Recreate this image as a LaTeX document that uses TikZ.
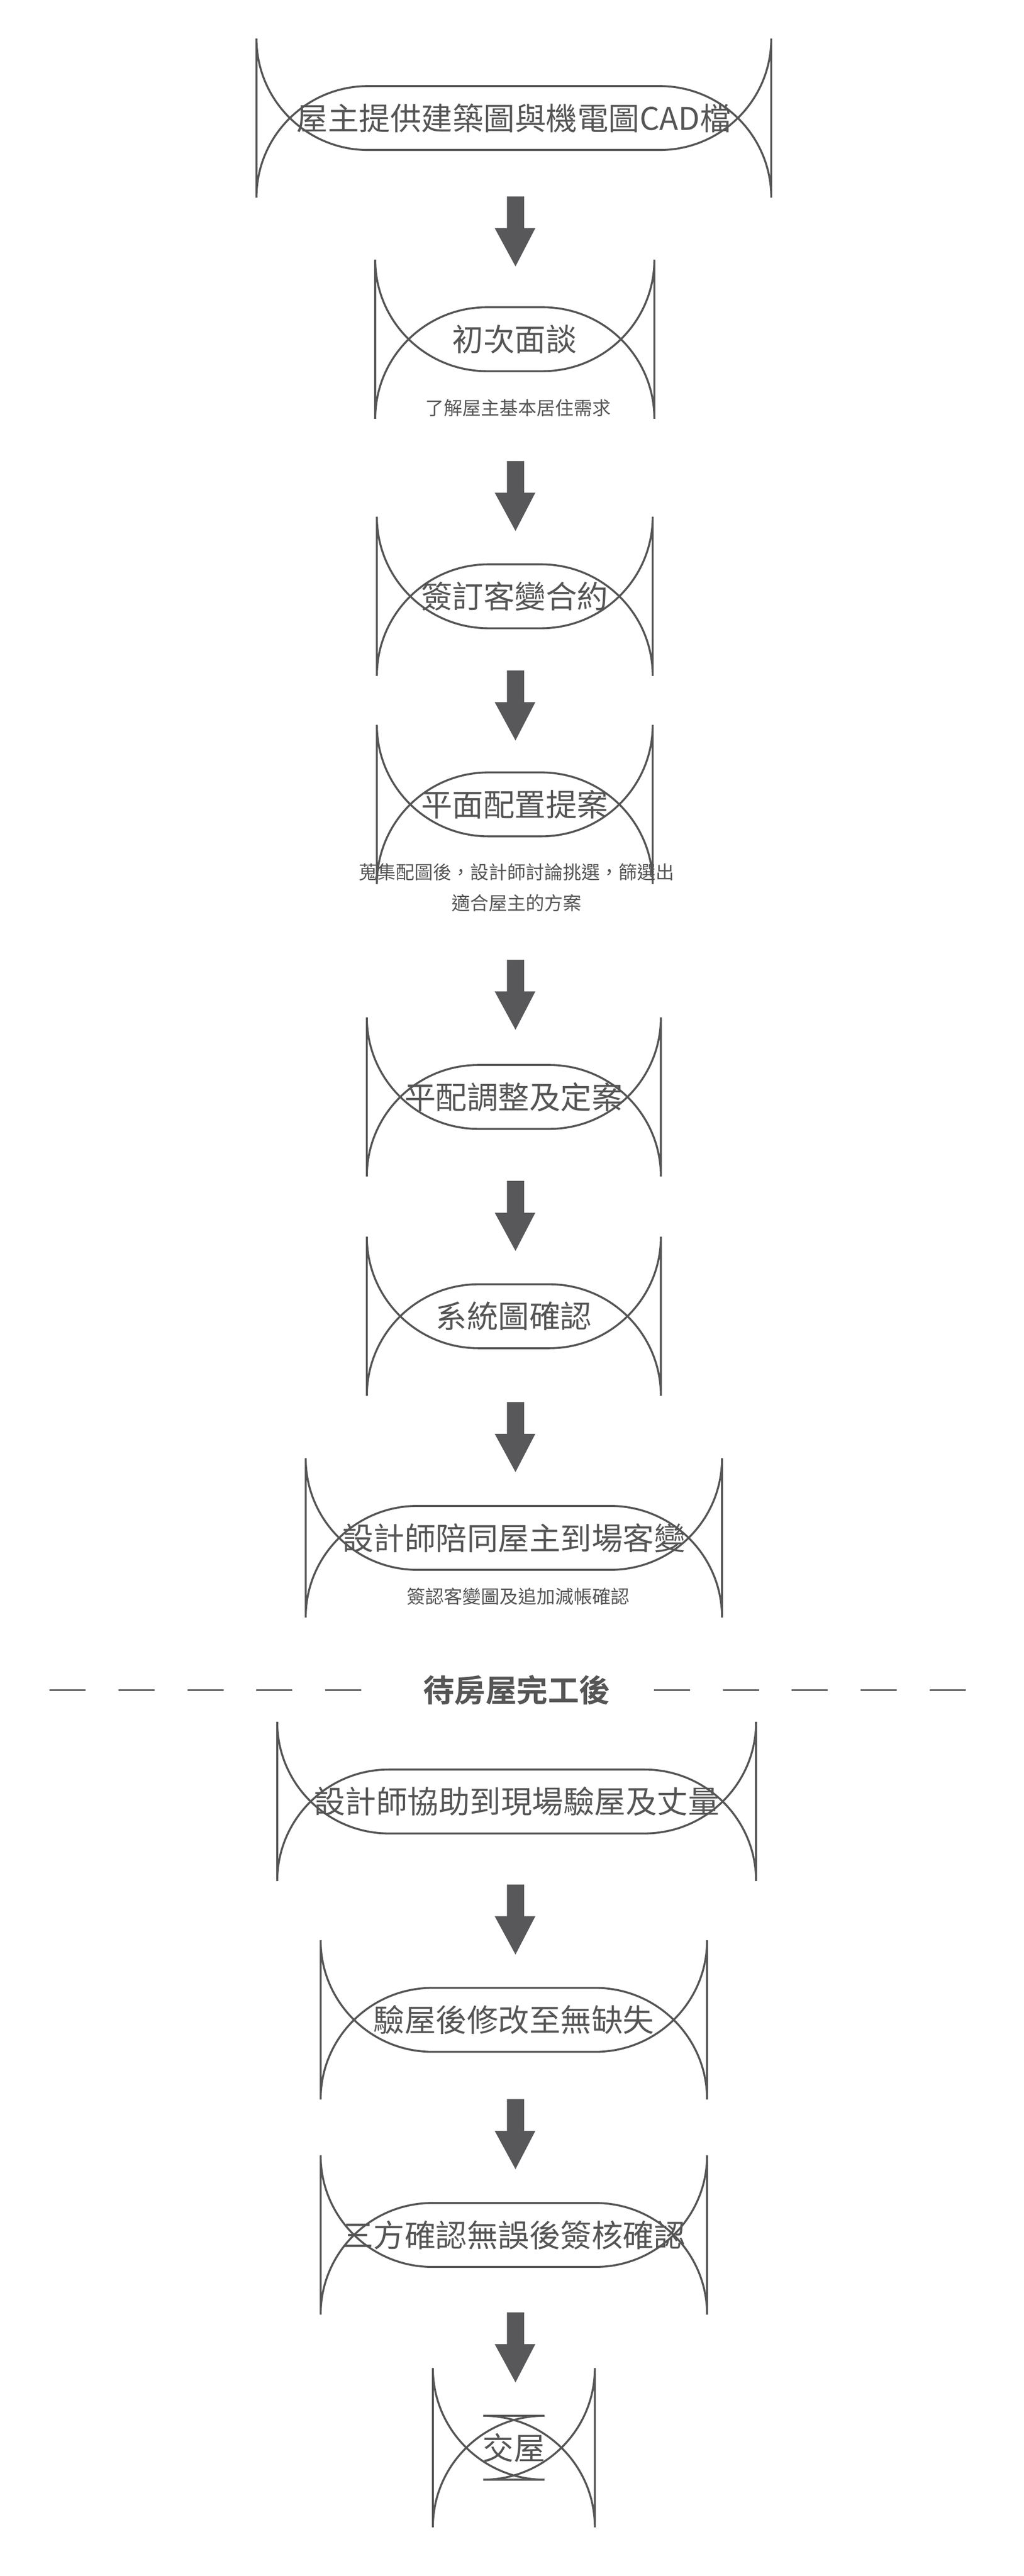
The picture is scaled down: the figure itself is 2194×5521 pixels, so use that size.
\documentclass[tikz,border=0pt]{standalone}
\usepackage{fontspec}
\setmainfont{Noto Sans CJK TC}
\newfontfamily\boldcjk{Noto Sans CJK TC Bold}
\definecolor{ink}{HTML}{555555}
\definecolor{arr}{HTML}{58585A}
\begin{document}
\begin{tikzpicture}[x=0.01cm,y=-0.01cm,
  stepbox/.style={draw=ink,line width=1.2pt,rounded corners=68,minimum height=137*0.01cm,text=ink,font=\fontsize{19pt}{22pt}\selectfont,inner sep=0pt},
  note/.style={text=ink,font=\fontsize{11.3pt}{19pt}\selectfont,align=center},
  bigarrow/.style={fill=arr,draw=none}]
\useasboundingbox (0,0) rectangle (2194,5521);
\newcommand{\flowarrow}[2]{%
  \fill[arr] (1086,#1) -- (1123,#1) -- (1123,#1+68) -- (1147,#1+68) -- (1104.5,#1+150) -- (1060,#1+68) -- (1086,#1+68) -- cycle;}
\node[stepbox,minimum width=1103*0.01cm] (b1) at (1101,253) {屋主提供建築圖與機電圖CAD檔};
\node[stepbox,minimum width=598*0.01cm] (b2) at (1103,727) {初次面談};
\node[note] (n2) at (1110,874) {了解屋主基本居住需求};
\node[stepbox,minimum width=591*0.01cm] (b3) at (1103,1278) {簽訂客變合約};
\node[stepbox,minimum width=591*0.01cm] (b4) at (1103,1724) {平面配置提案};
\node[note] (n4) at (1107,1902) {蒐集配圖後，設計師討論挑選，篩選出\\適合屋主的方案};
\node[stepbox,minimum width=630*0.01cm] (b5) at (1101,2351) {平配調整及定案};
\node[stepbox,minimum width=630*0.01cm] (b6) at (1101,2821) {系統圖確認};
\node[stepbox,minimum width=892*0.01cm] (b7) at (1101,3296) {設計師陪同屋主到場客變};
\node[note] (n7) at (1110,3422) {簽認客變圖及追加減帳確認};
\node[text=ink,font=\boldcjk\fontsize{19pt}{22pt}\selectfont] (div) at (1107,3622) {待房屋完工後};
\draw[ink,line width=0.9pt,dash pattern=on 22 off 20] (106,3622) -- (800,3622);
\draw[ink,line width=0.9pt,dash pattern=on 22 off 20] (1401,3622) -- (2099,3622);
\node[stepbox,minimum width=1026*0.01cm] (b8) at (1107,3861) {設計師協助到現場驗屋及丈量};
\node[stepbox,minimum width=828*0.01cm] (b9) at (1101,4329) {驗屋後修改至無缺失};
\node[stepbox,minimum width=828*0.01cm] (b10) at (1101,4790) {三方確認無誤後簽核確認};
\node[stepbox,minimum width=347*0.01cm] (b11) at (1101,5246) {交屋};
\flowarrow{421}{}
\flowarrow{988}{}
\flowarrow{1437}{}
\flowarrow{2057}{}
\flowarrow{2531}{}
\flowarrow{3005}{}
\flowarrow{4039}{}
\flowarrow{4499}{}
\flowarrow{4956}{}
\end{tikzpicture}
\end{document}
